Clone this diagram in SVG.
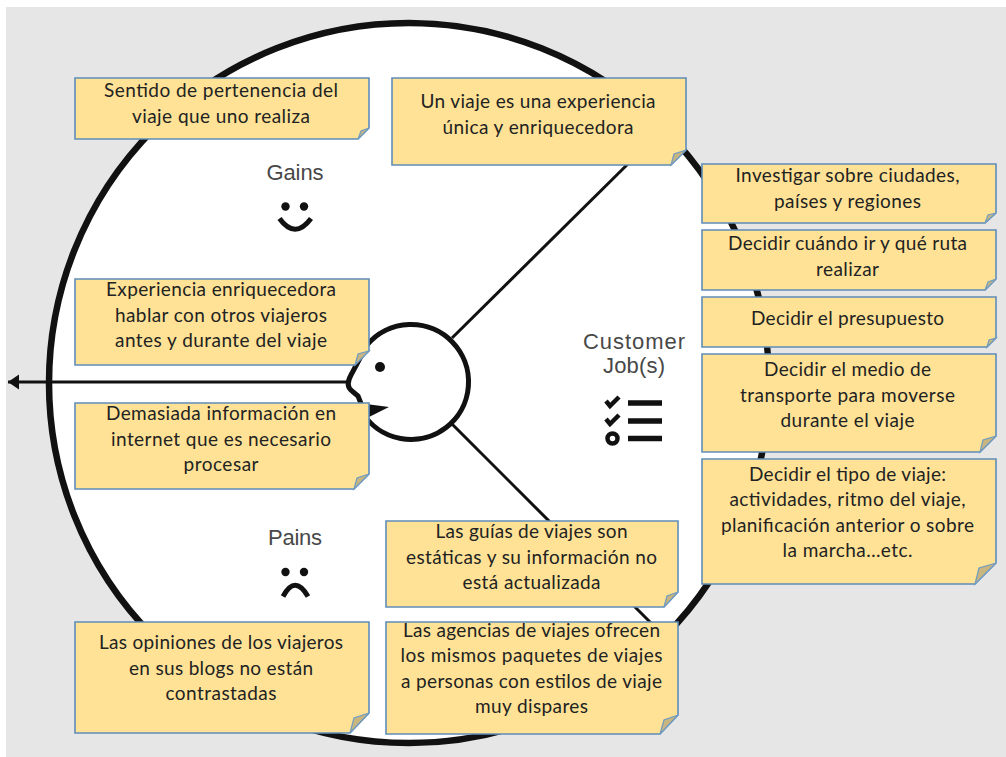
<svg xmlns="http://www.w3.org/2000/svg" width="1006" height="757" viewBox="0 0 1006 757">
<style>
.box{fill:#ffe296;stroke:#5f8db8;stroke-width:1.6}
.flap{fill:#c9b57f;stroke:#6f9cc0;stroke-width:1.2}
.note{font-family:Lato,"Liberation Sans",sans-serif;font-size:19px;fill:#222;text-anchor:middle}
.title{font-family:"Liberation Sans",Arial,sans-serif;font-size:22px;fill:#484848;text-anchor:middle}
.ink{fill:none;stroke:#111}
.dot{fill:#111}
</style>
<defs>
<marker id="arrow" markerUnits="userSpaceOnUse" markerWidth="12" markerHeight="16" refX="11" refY="7.5" orient="auto"><path d="M0 0 L11 7.5 L0 15 Z" fill="#111"/></marker>
</defs>
<rect width="1006" height="757" fill="#fff"/>
<rect x="6" y="7" width="1000" height="750" fill="#e6e6e6"/>
<g id="canvas-circle"><circle cx="409" cy="383" r="360" fill="#fff" stroke="#111" stroke-width="6.500"/></g>
<g id="connectors">
<line x1="452" y1="338" x2="640" y2="152" stroke="#111" stroke-width="3"/>
<line x1="452" y1="424" x2="652" y2="624" stroke="#111" stroke-width="3"/>
<line x1="348" y1="382" x2="8" y2="382" stroke="#111" stroke-width="3" marker-end="url(#arrow)"/>
</g>
<g id="head">
<path d="M362 412 A57.500 57.500 0 1 0 367 345 L351 375 Q345 386 352 391 L358 396 L362 406" fill="#fff" stroke="#111" stroke-width="5"/>
<path d="M366 404 L389 407 L369 417 Z" fill="#111"/>
<circle cx="380" cy="367" r="5" class="dot"/>
</g>
<g id="gains-label">
<text x="295" y="180" class="title" textLength="57">Gains</text>
<circle cx="285.500" cy="206.500" r="4.200" class="dot"/><circle cx="304" cy="206.500" r="4.200" class="dot"/>
<path d="M279.500 218.500 Q295 240 311 218.500" class="ink" stroke-width="5"/>
</g>
<g id="pains-label">
<text x="295" y="545" class="title" textLength="54">Pains</text>
<circle cx="285.500" cy="572" r="4.200" class="dot"/><circle cx="304" cy="572" r="4.200" class="dot"/>
<path d="M283 596.500 Q295 574 308 596.500" class="ink" stroke-width="5"/>
</g>
<g id="jobs-label">
<text x="634" y="349" class="title" textLength="102">Customer</text>
<text x="634" y="373" class="title" textLength="62">Job(s)</text>
<path d="M606 401 L610 406 L619 397" class="ink" stroke-width="4.500"/>
<path d="M606 419 L610 424 L619 415" class="ink" stroke-width="4.500"/>
<circle cx="612.500" cy="438.500" r="5" fill="none" stroke="#111" stroke-width="4.500"/>
<path d="M628 403 H662 M628 421 H662 M628 438.500 H662" fill="none" stroke="#111" stroke-width="5.500"/>
</g>
<g id="note-gain-1"><path class="box" d="M75 78 H369 V128 L358 139 H75 Z"/><path class="flap" d="M358 139 L361 131 L369 128 Z"/>
<text class="note" x="221" y="97" textLength="234">Sentido de pertenencia del</text><text class="note" x="221" y="123" textLength="178">viaje que uno realiza</text></g>
<g id="note-gain-2"><path class="box" d="M392 78 H686 V150 L671 165 H392 Z"/><path class="flap" d="M671 165 L674 154 L686 150 Z"/>
<text class="note" x="538" y="108" textLength="235">Un viaje es una experiencia</text><text class="note" x="538" y="134" textLength="191">única y enriquecedora</text></g>
<g id="note-job-1"><path class="box" d="M702 164 H996 V213 L985 223 H702 Z"/><path class="flap" d="M985 223 L988 215 L996 213 Z"/>
<text class="note" x="847.500" y="182" textLength="224">Investigar sobre ciudades,</text><text class="note" x="847.500" y="207.500" textLength="147">países y regiones</text></g>
<g id="note-job-2"><path class="box" d="M702 230 H996 V279 L985 290 H702 Z"/><path class="flap" d="M985 290 L988 282 L996 279 Z"/>
<text class="note" x="847.500" y="250" textLength="239">Decidir cuándo ir y qué ruta</text><text class="note" x="847.500" y="276" textLength="63">realizar</text></g>
<g id="note-job-3"><path class="box" d="M702 297 H996 V338 L987 347 H702 Z"/><path class="flap" d="M987 347 L989 340 L996 338 Z"/>
<text class="note" x="847.500" y="325" textLength="193">Decidir el presupuesto</text></g>
<g id="note-job-4"><path class="box" d="M702 354 H996 V436 L980 452 H702 Z"/><path class="flap" d="M980 452 L983 440 L996 436 Z"/>
<text class="note" x="847.500" y="376" textLength="167">Decidir el medio de</text><text class="note" x="847.500" y="401.500" textLength="215">transporte para moverse</text><text class="note" x="847.500" y="427" textLength="134">durante el viaje</text></g>
<g id="note-job-5"><path class="box" d="M702 459 H996 V563 L975 584 H702 Z"/><path class="flap" d="M975 584 L979 568 L996 563 Z"/>
<text class="note" x="847.500" y="480.500" textLength="197">Decidir el tipo de viaje:</text><text class="note" x="847.500" y="506" textLength="236">actividades, ritmo del viaje,</text><text class="note" x="847.500" y="531.500" textLength="253">planificación anterior o sobre</text><text class="note" x="847.500" y="557" textLength="130">la marcha…etc.</text></g>
<g id="note-mid-1"><path class="box" d="M75 279 H369 V351 L355 365 H75 Z"/><path class="flap" d="M355 365 L358 354 L369 351 Z"/>
<text class="note" x="221" y="296" textLength="230">Experiencia enriquecedora</text><text class="note" x="221" y="321.500" textLength="212">hablar con otros viajeros</text><text class="note" x="221" y="347" textLength="212">antes y durante del viaje</text></g>
<g id="note-pain-1"><path class="box" d="M75 403 H369 V474 L354 489 H75 Z"/><path class="flap" d="M354 489 L357 478 L369 474 Z"/>
<text class="note" x="221" y="420" textLength="230">Demasiada información en</text><text class="note" x="221" y="445.500" textLength="220">internet que es necesario</text><text class="note" x="221" y="471" textLength="75">procesar</text></g>
<g id="note-pain-2"><path class="box" d="M75 622 H369 V713 L350 733 H75 Z"/><path class="flap" d="M350 733 L354 718 L369 713 Z"/>
<text class="note" x="221" y="649" textLength="244">Las opiniones de los viajeros</text><text class="note" x="221" y="674.500" textLength="184">en sus blogs no están</text><text class="note" x="221" y="700" textLength="111">contrastadas</text></g>
<g id="note-pain-3"><path class="box" d="M386 521 H678 V592 L664 607 H386 Z"/><path class="flap" d="M664 607 L667 596 L678 592 Z"/>
<text class="note" x="531.500" y="538" textLength="192">Las guías de viajes son</text><text class="note" x="531.500" y="563.500" textLength="251">estáticas y su información no</text><text class="note" x="531.500" y="589" textLength="138">está actualizada</text></g>
<g id="note-pain-4"><path class="box" d="M386 622 H678 V715 L660 734 H386 Z"/><path class="flap" d="M660 734 L664 720 L678 715 Z"/>
<text class="note" x="531.500" y="636.500" textLength="257">Las agencias de viajes ofrecen</text><text class="note" x="531.500" y="662" textLength="262">los mismos paquetes de viajes</text><text class="note" x="531.500" y="687.500" textLength="261">a personas con estilos de viaje</text><text class="note" x="531.500" y="713" textLength="113">muy dispares</text></g>
</svg>
